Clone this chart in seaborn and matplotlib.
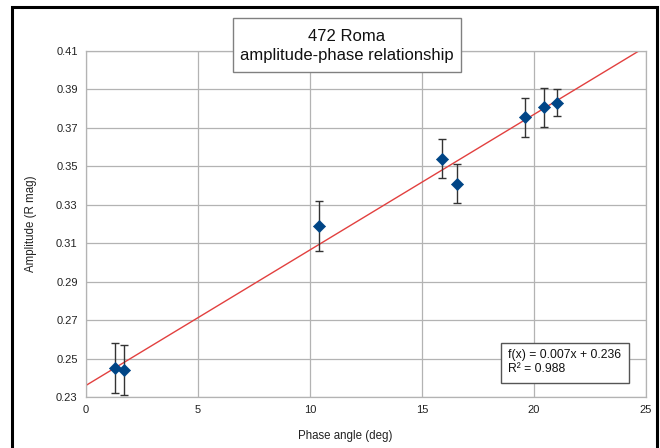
import numpy as np
import pandas as pd
import matplotlib
matplotlib.use("Agg")
import matplotlib.pyplot as plt
import seaborn as sns
from matplotlib.patches import Rectangle

# values
phase = [1.29, 1.71, 10.42, 15.88, 16.58, 19.60, 20.46, 21.03]
amplitude = [0.245, 0.244, 0.319, 0.354, 0.341, 0.3755, 0.3807, 0.3831]
amp_err = [0.013, 0.013, 0.013, 0.010, 0.010, 0.010, 0.010, 0.007]
x_ticks = [0, 5, 10, 15, 20, 25]
y_ticks = [0.23, 0.25, 0.27, 0.29, 0.31, 0.33, 0.35, 0.37, 0.39, 0.41]
title_lines = ["472 Roma", "amplitude-phase relationship"]
fit_text = ["f(x) = 0.007x + 0.236", "R\u00b2 = 0.988"]

df = pd.DataFrame({"phase": phase, "amp": amplitude, "err": amp_err})

sns.set_theme(style="whitegrid")
plt.rcParams["font.family"] = ["Liberation Sans", "DejaVu Sans"]

W, H = 660, 448
fig = plt.figure(figsize=(6.6, 4.48), dpi=100)
ax = fig.add_axes([86 / W, 1 - 397 / H, 560 / W, 346 / H])


def px_box(x0, y0, x1, y1, **kw):
    # rectangle given in pixel coords of the picture (y from top)
    r = Rectangle((x0 / W, 1 - y1 / H), (x1 - x0) / W, (y1 - y0) / H,
                  transform=fig.transFigure, **kw)
    fig.patches.append(r)


# outer black frame of the chart
px_box(12, 7, 657, 470, fill=False, edgecolor="black", linewidth=2.2)

# linear trend
k, b = np.polyfit(df["phase"], df["amp"], 1)
xs = np.array([0, 25])
ax.plot(xs, k * xs + b, color="#e2403f", linewidth=1.0, zorder=2)

ax.errorbar(df["phase"], df["amp"], yerr=df["err"], fmt="none",
            ecolor="#333333", elinewidth=1.0, capsize=2.6, capthick=1.0, zorder=3)
sns.scatterplot(data=df, x="phase", y="amp", marker="D", s=38,
                color="#004586", edgecolor="#004586", linewidth=0.5, ax=ax, zorder=4)

ax.set_xlim(0, 25)
ax.set_ylim(0.23, 0.41)
ax.set_xticks(x_ticks)
ax.set_yticks(y_ticks)
ax.set_xticklabels([str(t) for t in x_ticks])
ax.set_yticklabels([f"{t:.2f}" for t in y_ticks])
ax.grid(True, color="#b3b3b3", linewidth=0.9)
for s in ax.spines.values():
    s.set_color("#b3b3b3")
    s.set_linewidth(0.9)
ax.tick_params(axis="both", length=4, width=0.9, color="#b3b3b3",
               labelsize=8, labelcolor="#222222", pad=2)
ax.set_xlabel("Phase angle (deg)", fontsize=8.3, color="#222222")
ax.set_ylabel("Amplitude (R mag)", fontsize=8.3, color="#222222", labelpad=14)
ax.xaxis.set_label_coords((345 - 86) / 560, -(430 - 397) / 346)

# title box
px_box(233, 18, 461, 72, facecolor="white", edgecolor="#808080", linewidth=1.0, zorder=5)
fig.text(347 / W, 1 - 46 / H, "\n".join(title_lines), ha="center", va="center",
         fontsize=12, color="#111111", linespacing=1.3, zorder=6)

# regression equation box
px_box(501, 343, 629, 383, facecolor="white", edgecolor="#555555", linewidth=1.0, zorder=5)
fig.text(508 / W, 1 - 362 / H, "\n".join(fit_text), ha="left", va="center",
         fontsize=8.7, color="#111111", linespacing=1.15, zorder=6)

fig.savefig("out.png", dpi=100)
